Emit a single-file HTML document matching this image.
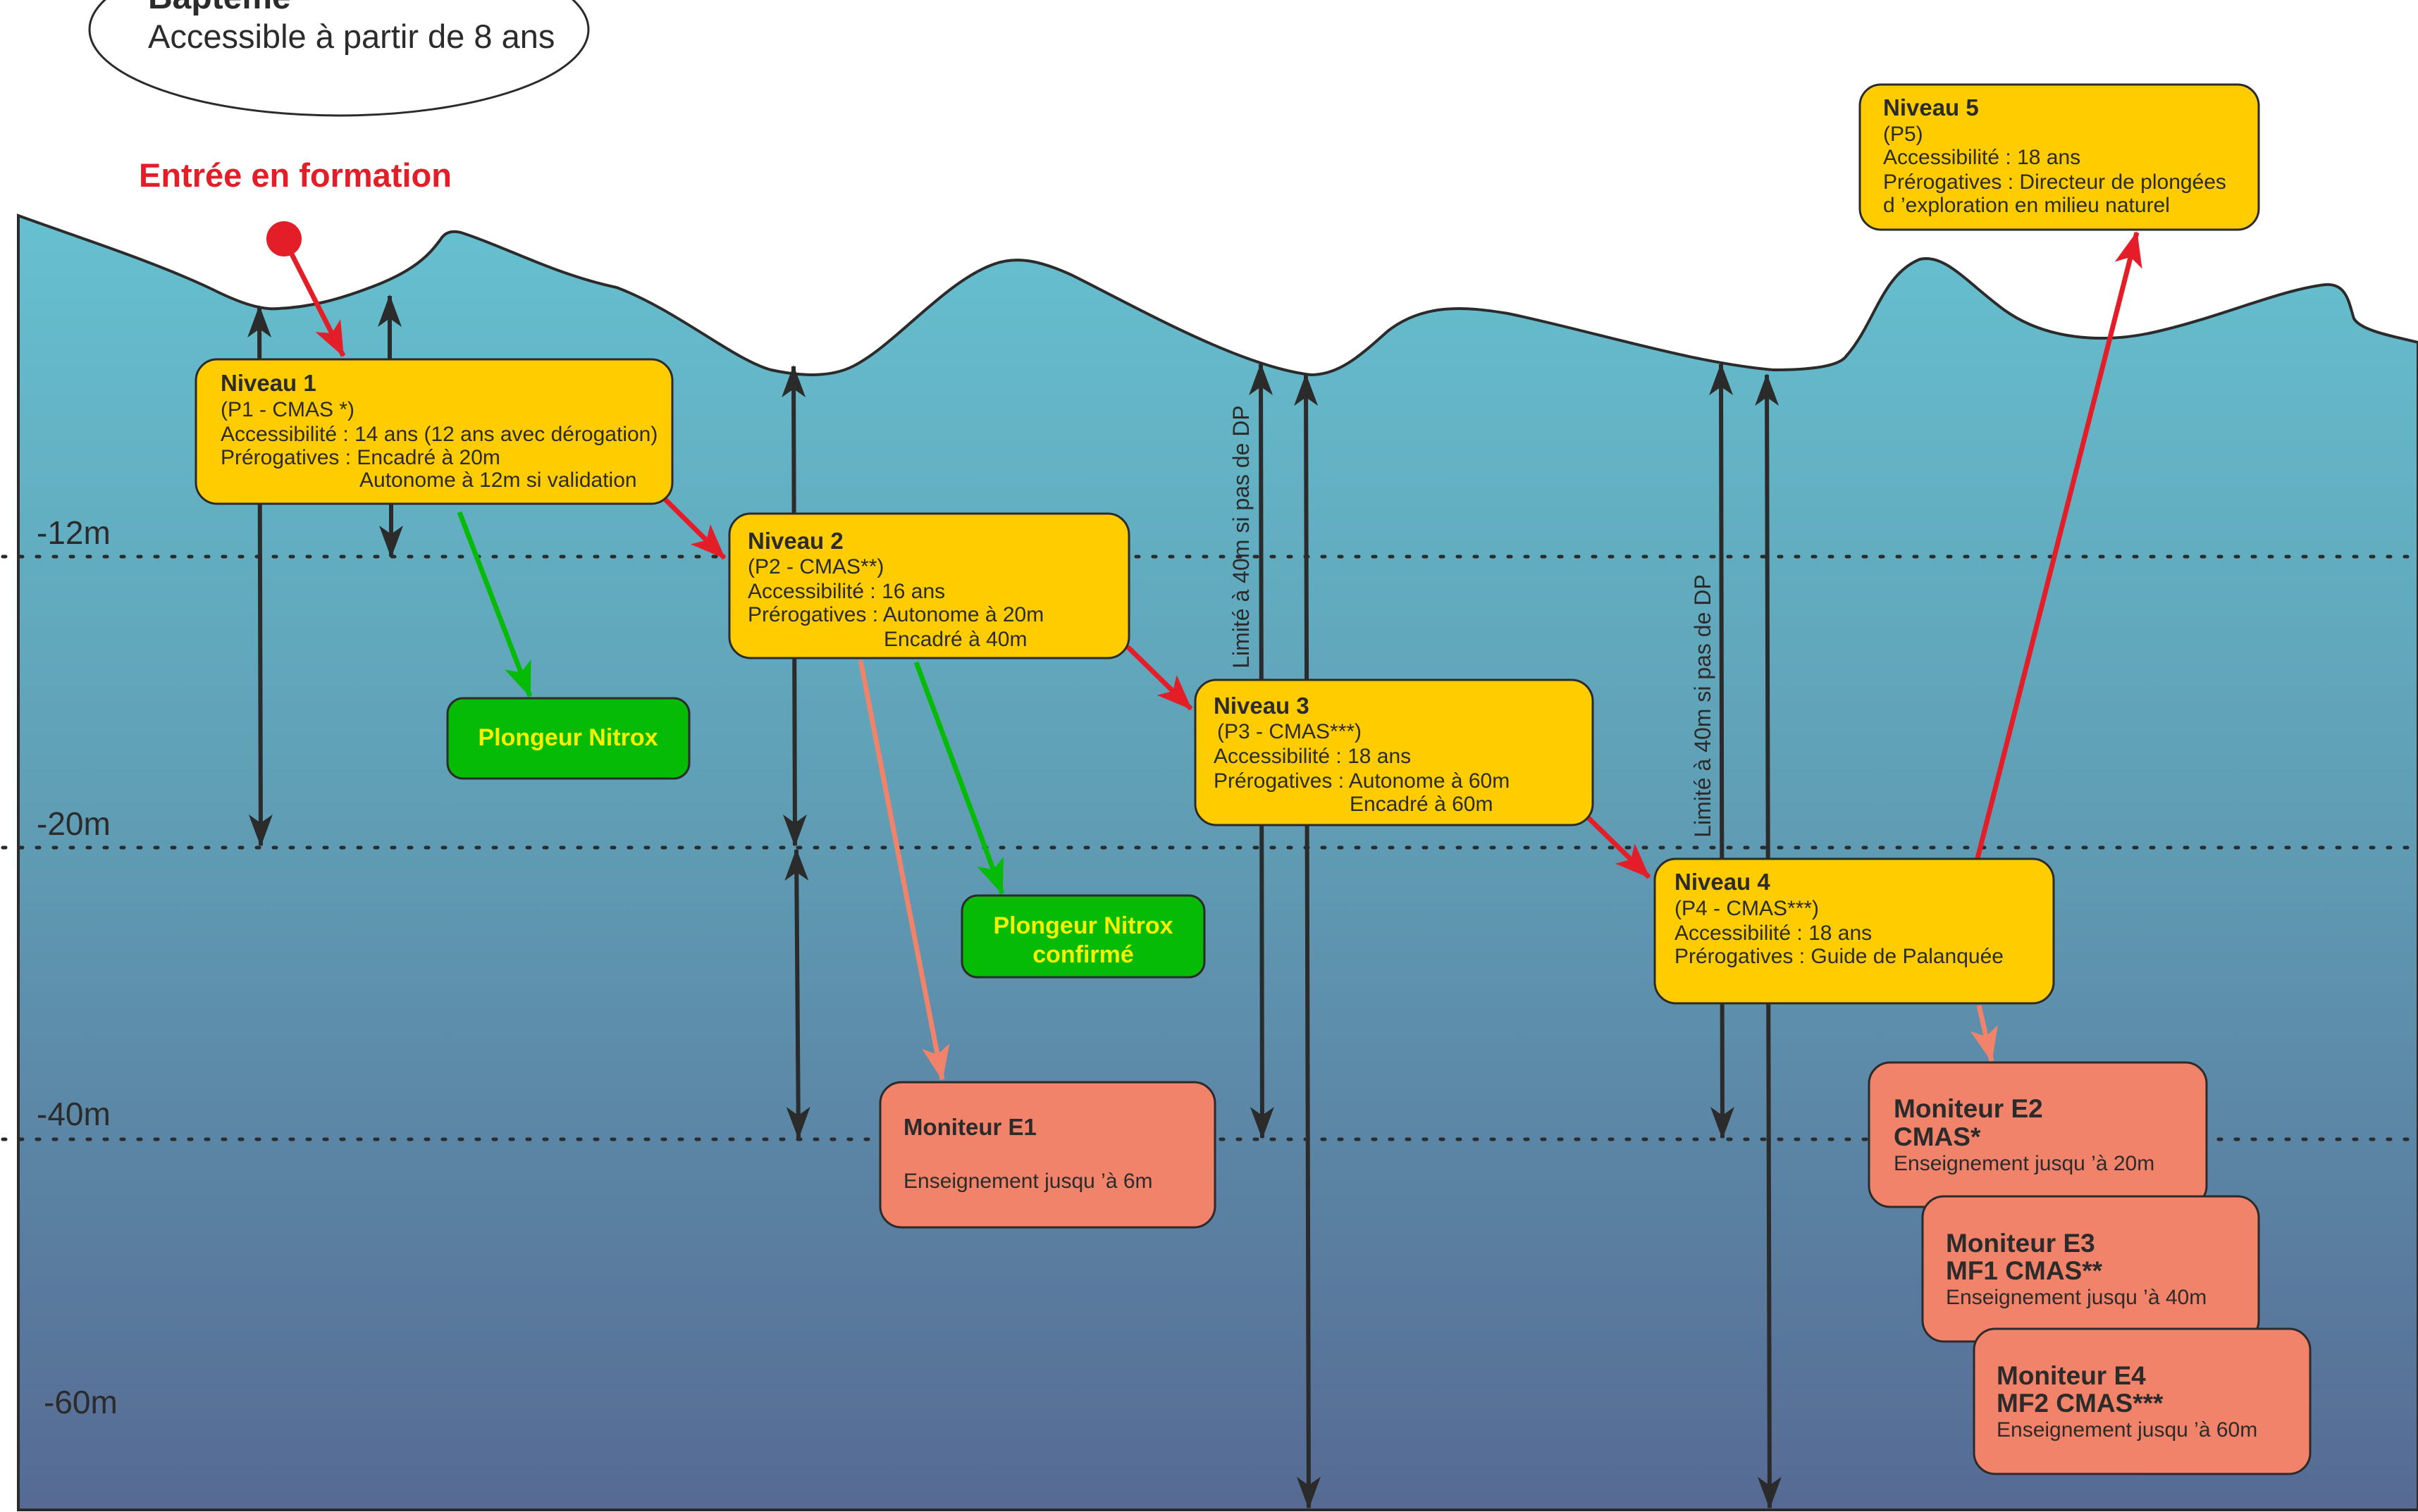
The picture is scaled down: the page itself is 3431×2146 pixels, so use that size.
<!DOCTYPE html>
<html><head><meta charset="utf-8"><style>
html,body{margin:0;padding:0;background:#fff;}
svg{display:block;}
.n{font-family:"Liberation Sans Narrow","Liberation Sans",sans-serif;fill:#2b2b2b;font-size:30px;}
.b{font-weight:bold;font-size:33px;}
.bb{font-weight:bold;font-size:37px;}
.y{fill:#f6f000;font-weight:bold;font-size:34px;font-family:"Liberation Sans Narrow","Liberation Sans",sans-serif;}
.lab{font-family:"Liberation Sans Narrow","Liberation Sans",sans-serif;font-size:46px;fill:#2b2b2b;}
</style></head><body>
<svg width="3431" height="2146" viewBox="0 0 3431 2146" xmlns="http://www.w3.org/2000/svg">
<defs>
<linearGradient id="sea" x1="0" y1="0" x2="0" y2="1">
<stop offset="0" stop-color="#66c0cf"/>
<stop offset="0.45" stop-color="#609fb6"/>
<stop offset="1" stop-color="#566a93"/>
</linearGradient>
<marker id="ak" markerUnits="userSpaceOnUse" markerWidth="46" markerHeight="34" refX="44" refY="17" orient="auto-start-reverse"><path d="M0,0 L46,17 L0,34 L12,17 Z" fill="#2b2b2b"/></marker>
<marker id="ar" markerUnits="userSpaceOnUse" markerWidth="50" markerHeight="40" refX="48" refY="20" orient="auto"><path d="M0,0 L50,20 L0,40 L12,20 Z" fill="#e31e28"/></marker>
<marker id="ag" markerUnits="userSpaceOnUse" markerWidth="50" markerHeight="40" refX="48" refY="20" orient="auto"><path d="M0,0 L50,20 L0,40 L12,20 Z" fill="#06bb06"/></marker>
<marker id="as" markerUnits="userSpaceOnUse" markerWidth="50" markerHeight="40" refX="48" refY="20" orient="auto"><path d="M0,0 L50,20 L0,40 L12,20 Z" fill="#f0836a"/></marker>
</defs>

<ellipse cx="481" cy="42" rx="354" ry="122" fill="#fff" stroke="#2b2b2b" stroke-width="3"/>
<text x="210" y="12" font-family="Liberation Sans, sans-serif" font-weight="bold" font-size="48" fill="#2b2b2b">Baptême</text>
<text x="210" y="68" font-family="Liberation Sans Narrow, Liberation Sans, sans-serif" font-size="47" fill="#2b2b2b">Accessible à partir de 8 ans</text>

<text x="197" y="265" font-family="Liberation Sans Narrow, Liberation Sans, sans-serif" font-weight="bold" font-size="47" fill="#e31e28">Entrée en formation</text>

<path d="M26,306 C120,340 220,372 300,410 C340,430 370,440 394,438 C440,436 480,425 520,410 C590,385 610,360 625,340 C632,328 645,326 660,332 C720,352 790,390 875,408 C960,440 1040,510 1094,525 C1140,535 1180,535 1210,520 C1270,490 1340,400 1410,375 C1445,362 1480,372 1520,390 C1620,440 1760,520 1860,532 C1900,532 1930,505 1969,470 C2020,430 2080,435 2140,445 C2260,470 2400,515 2516,525 C2570,525 2610,520 2620,505 C2660,460 2670,390 2724,368 C2760,360 2790,400 2844,440 C2900,480 2980,490 3063,470 C3150,450 3240,410 3300,404 C3330,402 3333,430 3340,452 C3350,470 3400,478 3431,486 L3431,2143 L26,2143 Z" fill="url(#sea)" stroke="#2b2b2b" stroke-width="4"/>

<g stroke="#2b2b2b" stroke-width="5" stroke-dasharray="4 20" stroke-linecap="round">
<line x1="4" y1="790" x2="3431" y2="790"/>
<line x1="4" y1="1203" x2="3431" y2="1203"/>
<line x1="4" y1="1617" x2="3431" y2="1617"/>
</g>
<text class="lab" x="52" y="772">-12m</text>
<text class="lab" x="52" y="1185">-20m</text>
<text class="lab" x="52" y="1597">-40m</text>
<text class="lab" x="62" y="2006">-60m</text>

<g stroke="#2b2b2b" stroke-width="6" fill="none">
<line x1="368" y1="435" x2="370" y2="1200" marker-start="url(#ak)" marker-end="url(#ak)"/>
<line x1="553" y1="420" x2="553" y2="520" marker-start="url(#ak)"/>
<line x1="555" y1="715" x2="555" y2="790" marker-end="url(#ak)"/>
<line x1="1126" y1="520" x2="1128" y2="1200" marker-start="url(#ak)" marker-end="url(#ak)"/>
<line x1="1130" y1="1206" x2="1133" y2="1615" marker-start="url(#ak)" marker-end="url(#ak)"/>
<line x1="1789" y1="517" x2="1791" y2="1615" marker-start="url(#ak)" marker-end="url(#ak)"/>
<line x1="1853" y1="532" x2="1857" y2="2140" marker-start="url(#ak)" marker-end="url(#ak)"/>
<line x1="2442" y1="517" x2="2444" y2="1615" marker-start="url(#ak)" marker-end="url(#ak)"/>
<line x1="2507" y1="532" x2="2511" y2="2140" marker-start="url(#ak)" marker-end="url(#ak)"/>
</g>
<text transform="translate(1772,762) rotate(-90)" text-anchor="middle" font-family="Liberation Sans, sans-serif" font-size="32" fill="#2b2b2b">Limité à 40m si pas de DP</text>
<text transform="translate(2427,1002) rotate(-90)" text-anchor="middle" font-family="Liberation Sans, sans-serif" font-size="32" fill="#2b2b2b">Limité à 40m si pas de DP</text>

<circle cx="403" cy="339" r="25" fill="#e31e28"/>
<g stroke-width="7" fill="none">
<line x1="403" y1="339" x2="487" y2="505" stroke="#e31e28" marker-end="url(#ar)"/>
<line x1="940" y1="705" x2="1028" y2="792" stroke="#e31e28" marker-end="url(#ar)"/>
<line x1="1600" y1="918" x2="1690" y2="1006" stroke="#e31e28" marker-end="url(#ar)"/>
<line x1="2253" y1="1160" x2="2340" y2="1245" stroke="#e31e28" marker-end="url(#ar)"/>
<line x1="2805" y1="1222" x2="3032" y2="330" stroke="#e31e28" marker-end="url(#ar)"/>
<line x1="652" y1="727" x2="752" y2="988" stroke="#06bb06" marker-end="url(#ag)"/>
<line x1="1300" y1="940" x2="1422" y2="1268" stroke="#06bb06" marker-end="url(#ag)"/>
<line x1="1221" y1="937" x2="1337" y2="1532" stroke="#f0836a" marker-end="url(#as)"/>
<line x1="2808" y1="1427" x2="2826" y2="1506" stroke="#f0836a" marker-end="url(#as)"/>
</g>

<g stroke="#2b2b2b" stroke-width="3">
<rect x="278" y="510" width="676" height="205" rx="30" fill="#ffcc00"/>
<rect x="1035" y="729" width="567" height="205" rx="30" fill="#ffcc00"/>
<rect x="1696" y="965" width="564" height="206" rx="30" fill="#ffcc00"/>
<rect x="2348" y="1219" width="566" height="205" rx="30" fill="#ffcc00"/>
<rect x="2639" y="120" width="566" height="206" rx="30" fill="#ffcc00"/>
<rect x="635" y="991" width="343" height="114" rx="22" fill="#06bb06"/>
<rect x="1365" y="1271" width="344" height="116" rx="22" fill="#06bb06"/>
<rect x="1249" y="1536" width="475" height="206" rx="30" fill="#f0836a"/>
<rect x="2652" y="1508" width="479" height="205" rx="30" fill="#f0836a"/>
<rect x="2728" y="1698" width="477" height="206" rx="30" fill="#f0836a"/>
<rect x="2801" y="1886" width="477" height="206" rx="30" fill="#f0836a"/>
</g>

<g class="n">
<text x="313" y="555" class="b">Niveau 1</text>
<text x="313" y="591">(P1 - CMAS *)</text>
<text x="313" y="626">Accessibilité :  14 ans (12 ans avec dérogation)</text>
<text x="313" y="659">Prérogatives : Encadré à 20m</text>
<text x="510" y="691">Autonome à 12m si validation</text>

<text x="1061" y="779" class="b">Niveau 2</text>
<text x="1061" y="814">(P2 - CMAS**)</text>
<text x="1061" y="849">Accessibilité : 16 ans</text>
<text x="1061" y="882">Prérogatives : Autonome à 20m</text>
<text x="1254" y="917">Encadré à 40m</text>

<text x="1722" y="1013" class="b">Niveau 3</text>
<text x="1727" y="1048">(P3 - CMAS***)</text>
<text x="1722" y="1083">Accessibilité : 18 ans</text>
<text x="1722" y="1118">Prérogatives : Autonome à 60m</text>
<text x="1915" y="1151">Encadré à 60m</text>

<text x="2376" y="1263" class="b">Niveau 4</text>
<text x="2376" y="1299">(P4 - CMAS***)</text>
<text x="2376" y="1334">Accessibilité : 18 ans</text>
<text x="2376" y="1367">Prérogatives : Guide de Palanquée</text>

<text x="2672" y="164" class="b">Niveau 5</text>
<text x="2672" y="200">(P5)</text>
<text x="2672" y="233">Accessibilité : 18 ans</text>
<text x="2672" y="268">Prérogatives : Directeur de plongées</text>
<text x="2672" y="301">d ’exploration en milieu naturel</text>

<text x="1282" y="1611" class="b">Moniteur E1</text>
<text x="1282" y="1686">Enseignement jusqu ’à 6m</text>

<text x="2687" y="1586" class="bb">Moniteur E2</text>
<text x="2687" y="1626" class="bb">CMAS*</text>
<text x="2687" y="1661">Enseignement jusqu ’à 20m</text>

<text x="2761" y="1777" class="bb">Moniteur E3</text>
<text x="2761" y="1816" class="bb">MF1 CMAS**</text>
<text x="2761" y="1851">Enseignement jusqu ’à 40m</text>

<text x="2833" y="1965" class="bb">Moniteur E4</text>
<text x="2833" y="2004" class="bb">MF2 CMAS***</text>
<text x="2833" y="2039">Enseignement jusqu ’à 60m</text>
</g>

<text x="806" y="1058" text-anchor="middle" class="y">Plongeur Nitrox</text>
<text x="1537" y="1325" text-anchor="middle" class="y">Plongeur Nitrox</text>
<text x="1537" y="1366" text-anchor="middle" class="y">confirmé</text>
</svg>
</body></html>
